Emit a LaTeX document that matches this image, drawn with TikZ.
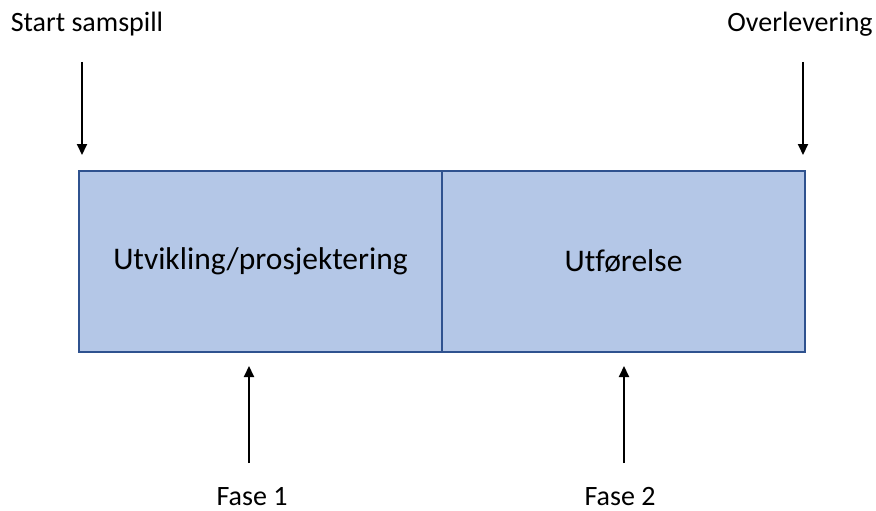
\documentclass[tikz,border=0pt]{standalone}
\usepackage{fontspec}
\setmainfont{Carlito}[Ligatures=NoCommon]
\usetikzlibrary{arrows.meta}
\begin{document}
\begin{tikzpicture}[x=1pt,y=-1pt,
  phase/.style={draw=boxedge,fill=boxfill,line width=1.5pt,minimum width=363pt,minimum height=181pt,inner sep=0pt,font=\fontsize{31.5}{36}\selectfont},
  lbl/.style={inner sep=0pt,font=\fontsize{28}{32}\selectfont},
  marker/.style={line width=2pt,-{Triangle[length=11pt,width=10pt]}}]
\definecolor{boxfill}{HTML}{B4C7E7}
\definecolor{boxedge}{HTML}{2F528F}
\useasboundingbox (0,0) rectangle (876,511);
\node[phase] (dev) at (260.5,261.5) {Utvikling/prosjektering};
\node[phase] (exe) at (623.5,261.5) {Utførelse};
\node[lbl] (start) at (87,24) {Start samspill};
\node[lbl] (handover) at (800,24) {Overlevering};
\node[lbl] (f1) at (252,497) {Fase 1};
\node[lbl] (f2) at (620,497) {Fase 2};
\coordinate (s0) at (82,62);
\coordinate (s1) at (82,155);
\coordinate (h0) at (803,62);
\coordinate (h1) at (803,155);
\coordinate (a0) at (249,463);
\coordinate (a1) at (249,366);
\coordinate (b0) at (624,463);
\coordinate (b1) at (624,366);
\draw[marker] (s0) -- (s1);
\draw[marker] (h0) -- (h1);
\draw[marker] (a0) -- (a1);
\draw[marker] (b0) -- (b1);
\end{tikzpicture}
\end{document}
